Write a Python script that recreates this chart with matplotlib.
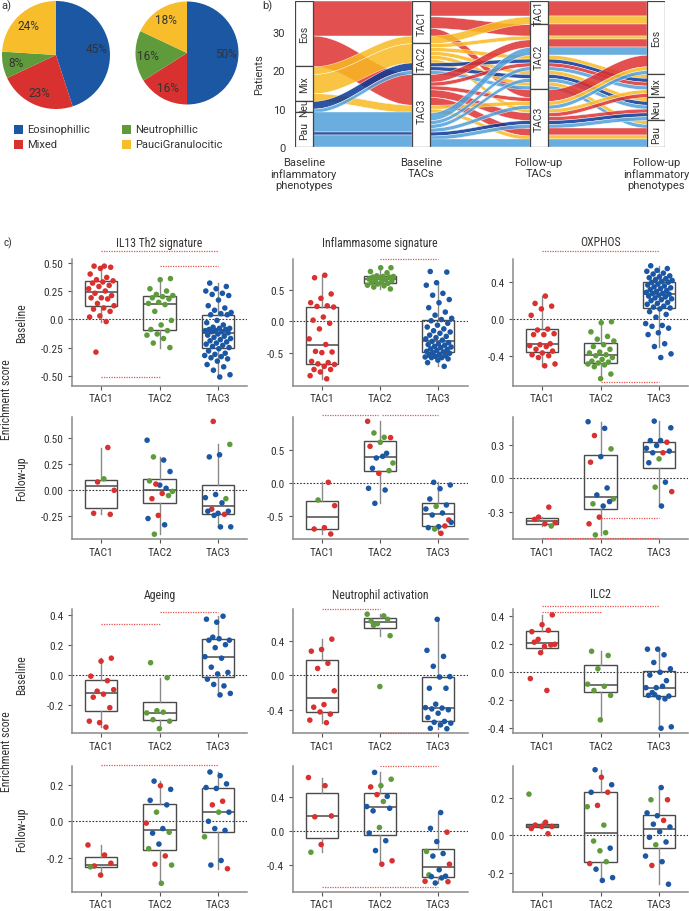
import numpy as np
import matplotlib
matplotlib.use("Agg")
import matplotlib.pyplot as plt
from matplotlib import font_manager
from matplotlib.patches import Rectangle

_names = {f.name for f in font_manager.fontManager.ttflist}
REG = 'Roboto' if 'Roboto' in _names else 'DejaVu Sans'
NARROW = REG
for cand in ['Liberation Sans Narrow', 'Roboto Condensed', 'Open Sans Condensed']:
    if cand in _names:
        NARROW = cand
        break
plt.rcParams['font.family'] = [REG, 'DejaVu Sans']

# ---------------- data: panel a ----------------
pie_labels = ['Eosinophillic', 'Mixed', 'Neutrophillic', 'PauciGranulocitic']
pie_baseline = [45, 23, 8, 24]
pie_followup = [50, 16, 16, 18]

# ---------------- data: panel b (one entry per patient) ----------------
PHEN = ['Eos', 'Mix', 'Neu', 'Pau']
TACS = ['TAC1', 'TAC2', 'TAC3']
base_pheno = (['Eos'] * 9 + ['Mix'] * 2 + ['Eos'] * 8 + ['Mix'] * 7 + ['Neu'] * 2 + ['Pau'] +
              ['Neu'] + ['Pau'] * 8)
base_tac = (['TAC1'] * 11 + ['TAC3'] * 8 + ['TAC2'] * 5 + ['TAC3'] * 2 + ['TAC2'] * 2 + ['TAC3'] +
            ['TAC2'] + ['TAC3'] * 8)
fu_tac = (['TAC1'] * 4 + ['TAC2'] * 3 + ['TAC3'] * 2 + ['TAC1'] * 2 +
          ['TAC2'] * 3 + ['TAC3'] * 5 +
          ['TAC2'] * 4 + ['TAC3'] * 3 +
          ['TAC2'] * 2 + ['TAC3'] +
          ['TAC2'] + ['TAC2'] * 4 + ['TAC3'] * 4)
fu_pheno = (['Eos'] * 9 + ['Eos'] * 2 +
            ['Eos', 'Eos', 'Mix', 'Neu', 'Eos', 'Mix', 'Pau', 'Pau'] +
            ['Eos', 'Mix', 'Neu', 'Pau', 'Mix', 'Eos', 'Pau'] +
            ['Mix', 'Neu', 'Neu'] +
            ['Pau', 'Eos', 'Eos', 'Mix', 'Neu', 'Neu', 'Eos', 'Pau', 'Pau'])
flow_col = (['r'] * 9 + ['y'] * 2 + ['r'] * 8 + ['y'] * 7 + ['d'] * 3 + ['l'] * 9)

# ---------------- data: panel c ----------------
IL13_BASE = [
    [0.47, 0.47, 0.46, 0.45, 0.40, 0.37, 0.35, 0.34, 0.33, 0.32, 0.30, 0.29, 0.27, 0.25,
     0.23, 0.21, 0.19, 0.19, 0.18, 0.14, 0.12, 0.10, 0.09, 0.07, 0.03, 0.02, -0.02, -0.29],
    [0.36, 0.35, 0.27, 0.25, 0.22, 0.21, 0.20, 0.19, 0.18, 0.15, 0.14, 0.13, 0.07, -0.01,
     -0.05, -0.09, -0.10, -0.13, -0.14, -0.17, -0.21, -0.25],
    [0.32, 0.29, 0.27, 0.25, 0.23, 0.22, 0.21, 0.17, 0.12, 0.10, 0.08, 0.06, 0.05, 0.04, 0.04,
     -0.01, -0.03, -0.05, -0.07, -0.08, -0.08, -0.09, -0.09, -0.10, -0.10, -0.11, -0.11, -0.12,
     -0.13, -0.14, -0.15, -0.16, -0.17, -0.18, -0.19, -0.20, -0.21, -0.22, -0.23, -0.24, -0.25,
     -0.26, -0.28, -0.30, -0.31, -0.32, -0.33, -0.34, -0.35, -0.37, -0.40, -0.42, -0.45, -0.49,
     -0.51]]
INFL_BASE = [
    [0.74, 0.70, 0.44, 0.37, 0.30, 0.25, 0.24, 0.23, 0.07, 0.02, -0.03, -0.12, -0.28, -0.37,
     -0.48, -0.49, -0.50, -0.64, -0.66, -0.68, -0.69, -0.72, -0.77, -0.77, -0.81, -0.87, -0.92],
    [0.86, 0.86, 0.80, 0.78, 0.73, 0.72, 0.72, 0.71, 0.71, 0.70, 0.68, 0.67, 0.66, 0.65, 0.63,
     0.62, 0.61, 0.60, 0.58, 0.57, 0.55, 0.52],
    [0.80, 0.79, 0.62, 0.58, 0.45, 0.42, 0.35, 0.30, 0.22, 0.15, 0.10, 0.05, 0.03,
     0.01, -0.03, -0.06, -0.09, -0.12, -0.15, -0.17, -0.19, -0.22, -0.24, -0.26, -0.28, -0.30,
     -0.32, -0.34, -0.36, -0.37, -0.38, -0.40, -0.41, -0.42, -0.44, -0.45, -0.46, -0.48, -0.49,
     -0.50, -0.51, -0.53, -0.54, -0.55, -0.56, -0.57, -0.58, -0.58, -0.60, -0.62, -0.66, -0.72]]
OXPHOS_BASE = [
    [0.25, 0.17, 0.14, 0.11, 0.04, -0.11, -0.12, -0.16, -0.17, -0.17, -0.27, -0.28, -0.29,
     -0.30, -0.33, -0.35, -0.37, -0.39, -0.40, -0.42, -0.49, -0.51],
    [-0.03, -0.04, -0.14, -0.19, -0.22, -0.24, -0.28, -0.30, -0.33, -0.36, -0.37, -0.39, -0.40,
     -0.42, -0.44, -0.46, -0.47, -0.48, -0.49, -0.50, -0.52, -0.60, -0.65],
    [0.58, 0.55, 0.53, 0.52, 0.50, 0.49, 0.47, 0.46, 0.45, 0.44, 0.43, 0.42, 0.41, 0.40,
     0.40, 0.38, 0.37, 0.36, 0.35, 0.34, 0.33, 0.32, 0.31, 0.30, 0.29, 0.28, 0.28, 0.27,
     0.26, 0.25, 0.24, 0.23, 0.22, 0.21, 0.20, 0.18, 0.17, 0.16, 0.14, 0.13, 0.12, 0.11,
     0.08, 0.05, 0.02, -0.05, -0.07, -0.08, -0.10, -0.15, -0.17, -0.27, -0.30, -0.38, -0.42]]
AGE_BASE = [
    [0.11, 0.09, -0.01, -0.04, -0.11, -0.10, -0.13, -0.15, -0.22, -0.32, -0.31, -0.35],
    [0.08, -0.02, -0.24, -0.255, -0.25, -0.30, -0.31, -0.36],
    [0.35, 0.37, 0.39, 0.25, 0.23, 0.24, 0.23, 0.20, 0.18, 0.12, 0.11, 0.05, 0.015, 0.005,
     -0.03, -0.075, -0.065, -0.125, -0.135]]
NEUT_BASE = [
    [0.42, 0.30, 0.28, 0.14, 0.08, -0.18, -0.34, -0.37, -0.45, -0.425, -0.52, -0.55],
    [0.63, 0.65, 0.60, 0.71, 0.69, 0.58, 0.46, -0.13],
    [0.65, 0.29, 0.22, 0.105, -0.015, -0.02, -0.15, -0.15, -0.335, -0.375, -0.38, -0.39, -0.40,
     -0.44, -0.49, -0.535, -0.545, -0.555, -0.575, -0.615, -0.62]]
ILC2_BASE = [
    [0.41, 0.34, 0.29, 0.30, 0.235, 0.20, 0.185, 0.215, 0.195, 0.14, -0.045, -0.13],
    [0.15, 0.12, 0.025, -0.085, -0.10, -0.13, -0.165, -0.34],
    [0.165, 0.165, 0.125, 0.07, 0.025, 0.0, -0.02, -0.06, -0.11, -0.11, -0.10, -0.145, -0.17,
     -0.18, -0.165, -0.19, -0.16, -0.39, -0.40]]

IL13_FU = [[0.41, 0.08, 0.00, 0.11, -0.22, -0.23],
           [0.48, 0.29, 0.32, 0.18, 0.05, 0.09, 0.02, 0.06, -0.01, -0.03, -0.08, -0.05, -0.24,
            -0.27, -0.33, -0.42],
           [0.66, 0.44, 0.34, 0.32, -0.08, -0.04, -0.07, -0.12, -0.18, -0.20, -0.22, -0.20,
            -0.23, -0.24, -0.35, -0.35]]
IL13_FU_COL = ["rrrgrr", "bbgbbgbrgrrgrbbg", "rgbbgbbbrbbbrbbb"]
INFL_FU = [[0.01, -0.255, -0.34, -0.67, -0.69, -0.765],
           [0.925, 0.685, 0.75, 0.68, 0.61, 0.55, 0.445, 0.375, 0.30, 0.40, 0.22, 0.185, 0.145,
            -0.08, -0.105, -0.305],
           [0.01, -0.03, -0.085, -0.24, -0.33, -0.35, -0.39, -0.45, -0.48, -0.555, -0.655, -0.67,
            -0.645, -0.69, -0.59, -0.755]]
INFL_FU_COL = ["rgrrrr", "rggrgrbbgbbgrbbb", "bbbbbgbbbrbbrgbr"]
OXPHOS_FU = [[-0.26, -0.35, -0.40, -0.41, -0.37, -0.43],
             [0.51, 0.45, 0.385, 0.265, 0.195, 0.145, -0.087, -0.15, -0.186, -0.25, -0.23, -0.21,
              -0.35, -0.41, -0.49, -0.51],
             [0.515, 0.455, 0.34, 0.34, 0.325, 0.295, 0.27, 0.23, 0.23, 0.245, 0.175, 0.14,
              -0.035, -0.08, -0.12, -0.25]]
OXPHOS_FU_COL = ["rrrrrg", "bbrgbrbbgbgbrrgg", "bbbbrbbrbbgbbgrb"]
AGE_FU = [[-0.13, -0.185, -0.245, -0.23, -0.295, -0.25],
          [0.22, 0.175, 0.195, 0.115, 0.09, 0.05, -0.01, -0.04, -0.065, -0.06, -0.125, -0.15,
           -0.19, -0.235, -0.24, -0.34],
          [0.25, 0.27, 0.205, 0.18, 0.185, 0.11, 0.09, 0.05, 0.05, 0.0, -0.05, -0.04, -0.085,
           -0.215, -0.24, -0.26]]
AGE_FU_COL = ["rrrrrg", "bbrbbgrbbgbgrrgg", "bbbbbrrbgbbbgbbr"]
NEUT_FU = [[0.63, 0.535, 0.17, 0.18, -0.155, -0.245],
           [0.69, 0.61, 0.535, 0.52, 0.41, 0.43, 0.29, 0.35, 0.24, 0.27, 0.045, -0.02, -0.11,
            -0.225, -0.345, -0.385],
           [0.22, 0.035, -0.01, -0.12, -0.235, -0.26, -0.29, -0.385, -0.45, -0.51, -0.525, -0.605,
            -0.585, -0.545, -0.53, -0.59]]
NEUT_FU_COL = ["rrrrrg", "bggrbrbgbbgbbbrr", "bbrbgbbrbgbbrbbr"]
ILC2_FU = [[0.22, 0.07, 0.055, 0.048, 0.048, 0.037, 0.009],
           [0.35, 0.27, 0.31, 0.23, 0.23, 0.16, 0.153, 0.055, -0.03, -0.068, -0.082, -0.15, -0.14,
            -0.18, -0.225, -0.24],
           [0.255, 0.19, 0.19, 0.105, 0.12, 0.08, 0.06, 0.045, 0.02, -0.01, -0.035, -0.05, -0.11,
            -0.14, -0.16, -0.26]]
ILC2_FU_COL = ["grrrrrr", "bbrbrrgggbgrgbbb", "bgrbbrbbbbbgbbrb"]

group_labels = ['TAC1', 'TAC2', 'TAC3']
titles_top = ['IL13 Th2 signature', 'Inflammasome signature', 'OXPHOS']
titles_bottom = ['Ageing', 'Neutrophil activation', 'ILC2']

# significance bars (from group, to group, height)
SIG = {
    (0, 0): [(0, 2, 0.603), (1, 2, 0.47), (0, 1, -0.51)],
    (0, 1): [(1, 2, 1.005)],
    (0, 2): [(0, 2, 0.738), (1, 2, -0.69)],
    (1, 0): [],
    (1, 1): [(0, 0.97, 1.02), (1.03, 2, 1.02)],
    (1, 2): [(1, 2, -0.36), (0, 2, -0.54)],
    (2, 0): [(0, 1, 0.338), (1, 2, 0.416)],
    (2, 1): [(0, 1, 0.77), (1, 2, -0.67)],
    (2, 2): [(0, 2, 0.476), (0, 1, 0.433)],
    (3, 0): [(0, 2, 0.309)],
    (3, 1): [(1, 2, 0.76), (0, 2, -0.656)],
    (3, 2): [],
}

# ---------------- styling ----------------
BLUE = '#1B57A3'
RED = '#D8312F'
GREEN = '#5F9B3B'
YELLOW = '#F7BD2B'
PT = {'r': RED, 'g': GREEN, 'b': BLUE}
FLOW = {'r': '#DD3131', 'y': '#F9BA22', 'd': '#093795', 'l': '#50A0DA'}

W, H = 689, 912
fig = plt.figure(figsize=(W / 100, H / 100), dpi=100)


def pax(x0, y0, x1, y1):
    return fig.add_axes([x0 / W, 1 - y1 / H, (x1 - x0) / W, (y1 - y0) / H])


def ftext(x, y, s, **kw):
    fig.text(x / W, 1 - y / H, s, **kw)


# ---------------- panel a ----------------
ftext(1, 6, 'a)', fontsize=8, va='center', ha='left', color='#333')
for vals, (cx, cy, r) in [(pie_baseline, (56, 56, 54)), (pie_followup, (187, 54, 51.5))]:
    ax = pax(cx - r, cy - r, cx + r, cy + r)
    ax.pie(vals, colors=[BLUE, RED, GREEN, YELLOW], startangle=90, counterclock=False,
           autopct=lambda p: f'{p:.0f}%', pctdistance=0.76,
           textprops=dict(fontsize=8.5, color='#333'), radius=1.0,
           wedgeprops=dict(linewidth=0))
    ax.set_xlim(-1, 1)
    ax.set_ylim(-1, 1)
    ax.set_aspect('auto')
    ax.axis('off')

leg_pos = [(14, 130), (14, 145), (122, 130), (122, 145)]
for (lx, ly), lab, col in zip(leg_pos, pie_labels, [BLUE, RED, GREEN, YELLOW]):
    fig.patches.append(Rectangle(((lx) / W, 1 - (ly + 4.5) / H), 9 / W, 9 / H,
                                 transform=fig.transFigure, facecolor=col, edgecolor='none'))
    ftext(lx + 13, ly, lab, fontsize=8, va='center', ha='left', color='#333')

# ---------------- panel b ----------------
ftext(262, 6, 'b)', fontsize=8, va='center', ha='left', color='#333')
axb = pax(295, 2, 665, 148)
N = len(base_pheno)
axes_vals = [base_pheno, base_tac, fu_tac, fu_pheno]
levels = [PHEN, TACS, TACS, PHEN]
rank = [[levels[k].index(v) for v in axes_vals[k]] for k in range(4)]
zig = {0: [1, 2, 3], 1: [0, 2, 3], 2: [3, 1, 0], 3: [2, 1, 0]}
ytop = np.zeros((4, N))
for k in range(4):
    order = sorted(range(N), key=lambda i: (rank[k][i],) + tuple(rank[j][i] for j in zig[k]) + (i,))
    y = N
    for i in order:
        ytop[k][i] = y
        y -= 1

BW = 0.15
for k in range(3):
    x0, x1 = k + 1 + BW / 2, k + 2 - BW / 2
    xs = np.linspace(x0, x1, 60)
    s = (1 - np.cos(np.pi * (xs - x0) / (x1 - x0))) / 2
    order = sorted(range(N), key=lambda i: -ytop[k][i])
    groups = []
    for i in order:
        if groups:
            g = groups[-1]
            j = g[-1]
            if (flow_col[i] == flow_col[j] and rank[k][i] == rank[k][j]
                    and rank[k + 1][i] == rank[k + 1][j]
                    and ytop[k][i] == ytop[k][j] - 1 and ytop[k + 1][i] == ytop[k + 1][j] - 1):
                g.append(i)
                continue
        groups.append([i])
    for g in groups:
        lt, lb = ytop[k][g[0]], ytop[k][g[-1]] - 1
        rt, rb = ytop[k + 1][g[0]], ytop[k + 1][g[-1]] - 1
        up = lt + (rt - lt) * s
        lo = lb + (rb - lb) * s
        axb.fill_between(xs, lo, up, facecolor=FLOW[flow_col[g[0]]], alpha=0.85,
                         edgecolor='white', linewidth=0.35, zorder=2)

for k in range(4):
    top = N
    for lev in levels[k]:
        cnt = axes_vals[k].count(lev)
        if cnt == 0:
            continue
        axb.add_patch(Rectangle((k + 1 - BW / 2, top - cnt), BW, cnt, facecolor='white',
                                edgecolor='#444', linewidth=0.9, zorder=4))
        axb.text(k + 1, top - cnt / 2, lev, rotation=90, ha='center', va='center',
                 fontsize=7.5, color='#333', zorder=5)
        top -= cnt

axb.set_xlim(1 - BW / 2, 4 + BW / 2)
axb.set_ylim(0, N)
axb.set_yticks([0, 10, 20, 30])
axb.set_xticks([1, 2, 3, 4])
axb.set_xticklabels(['Baseline\ninflammatory\nphenotypes', 'Baseline\nTACs', 'Follow-up\nTACs',
                     'Follow-up\ninflammatory\nphenotypes'], va='top', linespacing=1.15)
axb.tick_params(length=0, labelsize=8, colors='#333', pad=7)
for sp in axb.spines.values():
    sp.set_visible(False)
axb.set_ylabel('Patients', fontsize=8, color='#333', labelpad=6)

# ---------------- panel c ----------------
NFONT = [NARROW, 'DejaVu Sans']
ftext(3, 243, 'c)', fontsize=8, va='center', ha='left', color='#333', family=NFONT)
COLS_X = [72, 292.5, 513]
ROWS_Y = [(260, 386.7), (417.7, 540), (610, 734.3), (767, 892.7)]
YLIMS = {
    (0, 0): (-0.587, 0.533), (0, 1): (-1.03, 1.0), (0, 2): (-0.727, 0.654),
    (1, 0): (-0.466, 0.705), (1, 1): (-0.84, 0.994), (1, 2): (-0.547, 0.555),
    (2, 0): (-0.391, 0.438), (2, 1): (-0.673, 0.77), (2, 2): (-0.436, 0.452),
    (3, 0): (-0.386, 0.303), (3, 1): (-0.707, 0.765), (3, 2): (-0.30, 0.37),
}
TICKS = {
    (0, 0): ([-0.5, -0.25, 0, 0.25, 0.5], ['-0.50', '-0.25', '0.0', '0.25', '0.50']),
    (0, 1): ([-0.5, 0, 0.5], ['-0.5', '0.0', '0.5']),
    (0, 2): ([-0.4, 0, 0.4], ['-0.4', '0.0', '0.4']),
    (1, 0): ([-0.25, 0, 0.25, 0.5], ['-0.25', '0.00', '0.25', '0.50']),
    (1, 1): ([-0.5, 0, 0.5], ['-0.5', '0.0', '0.5']),
    (1, 2): ([-0.3, 0, 0.3], ['-0.3', '0.0', '0.3']),
    (2, 0): ([-0.2, 0, 0.2, 0.4], ['-0.2', '0.0', '0.2', '0.4']),
    (2, 1): ([-0.4, 0, 0.4], ['-0.4', '0.0', '0.4']),
    (2, 2): ([-0.4, -0.2, 0, 0.2, 0.4], ['-0.4', '-0.2', '0.0', '0.2', '0.4']),
    (3, 0): ([-0.2, 0, 0.2], ['-0.2', '0.0', '0.2']),
    (3, 1): ([-0.4, 0, 0.4], ['-0.4', '0.0', '0.4']),
    (3, 2): ([-0.2, 0, 0.2], ['-0.2', '0.0', '0.2']),
}
DATA = {
    (0, 0): (IL13_BASE, None), (0, 1): (INFL_BASE, None), (0, 2): (OXPHOS_BASE, None),
    (1, 0): (IL13_FU, IL13_FU_COL), (1, 1): (INFL_FU, INFL_FU_COL), (1, 2): (OXPHOS_FU, OXPHOS_FU_COL),
    (2, 0): (AGE_BASE, None), (2, 1): (NEUT_BASE, None), (2, 2): (ILC2_BASE, None),
    (3, 0): (AGE_FU, AGE_FU_COL), (3, 1): (NEUT_FU, NEUT_FU_COL), (3, 2): (ILC2_FU, ILC2_FU_COL),
}
for (r, c), (groups, cols) in DATA.items():
    y0, y1 = ROWS_Y[r]
    ax = pax(COLS_X[c], y0, COLS_X[c] + 175, y1)
    ax.axhline(0, color='#333', ls=(0, (1.5, 1.5)), lw=0.8, zorder=1)
    ax.boxplot(groups, positions=[0, 1, 2], widths=0.55, patch_artist=True, showfliers=False,
               showcaps=False, whis=1.5,
               boxprops=dict(facecolor='none', edgecolor='#4a4a4a', linewidth=1.0),
               medianprops=dict(color='#4a4a4a', linewidth=1.1),
               whiskerprops=dict(color='#8a8a8a', linewidth=1.0), zorder=2)
    for gi, vals in enumerate(groups):
        n = len(vals)
        jit = [0.23 * ((((i + 1) * 0.6180339887 + gi * 0.29 + r * 0.13) % 1.0) * 2 - 1)
               for i in range(n)]
        if cols is None:
            cc = [PT['rgb'[gi]]] * n
        else:
            cc = [PT[ch] for ch in cols[gi]]
        ax.scatter(np.array(jit) + gi, vals, s=16, c=cc, linewidths=0, zorder=3)
    for (a, b, h) in SIG[(r, c)]:
        ax.plot([a, b], [h, h], color='#E8524F', ls=(0, (1, 1)), lw=0.9, clip_on=False, zorder=4)
    ax.set_xlim(-0.5, 2.5)
    ax.set_ylim(*YLIMS[(r, c)])
    t, tl = TICKS[(r, c)]
    ax.set_yticks(t)
    ax.set_yticklabels(tl)
    ax.set_xticks([0, 1, 2])
    ax.set_xticklabels(group_labels)
    for sp in ['top', 'right']:
        ax.spines[sp].set_visible(False)
    for sp in ['left', 'bottom']:
        ax.spines[sp].set_color('#8a8a8a')
        ax.spines[sp].set_linewidth(1.1)
    ax.tick_params(length=3, width=0.8, colors='#555', labelsize=8.2, labelcolor='#333', pad=3)
    ax.tick_params(axis='x', pad=2.5)
    for lab in ax.get_xticklabels() + ax.get_yticklabels():
        lab.set_family(NFONT)
    if r in (0, 2):
        title = (titles_top if r == 0 else titles_bottom)[c]
        ftext(COLS_X[c] + 87.5, 243 if r == 0 else 595, title, fontsize=8.5, ha='center',
              va='center', color='#333', family=NFONT)

for (yc, lab) in [(323, 'Baseline'), (479, 'Follow-up'), (675, 'Baseline'), (830, 'Follow-up')]:
    ftext(22, yc, lab, rotation=90, fontsize=8.5, ha='center', va='center', color='#333',
          family=NFONT)
for yc in (400, 752):
    ftext(7, yc, 'Enrichment score', rotation=90, fontsize=8.5, ha='center', va='center',
          color='#333', family=NFONT)

fig.savefig('out.png', dpi=100)
